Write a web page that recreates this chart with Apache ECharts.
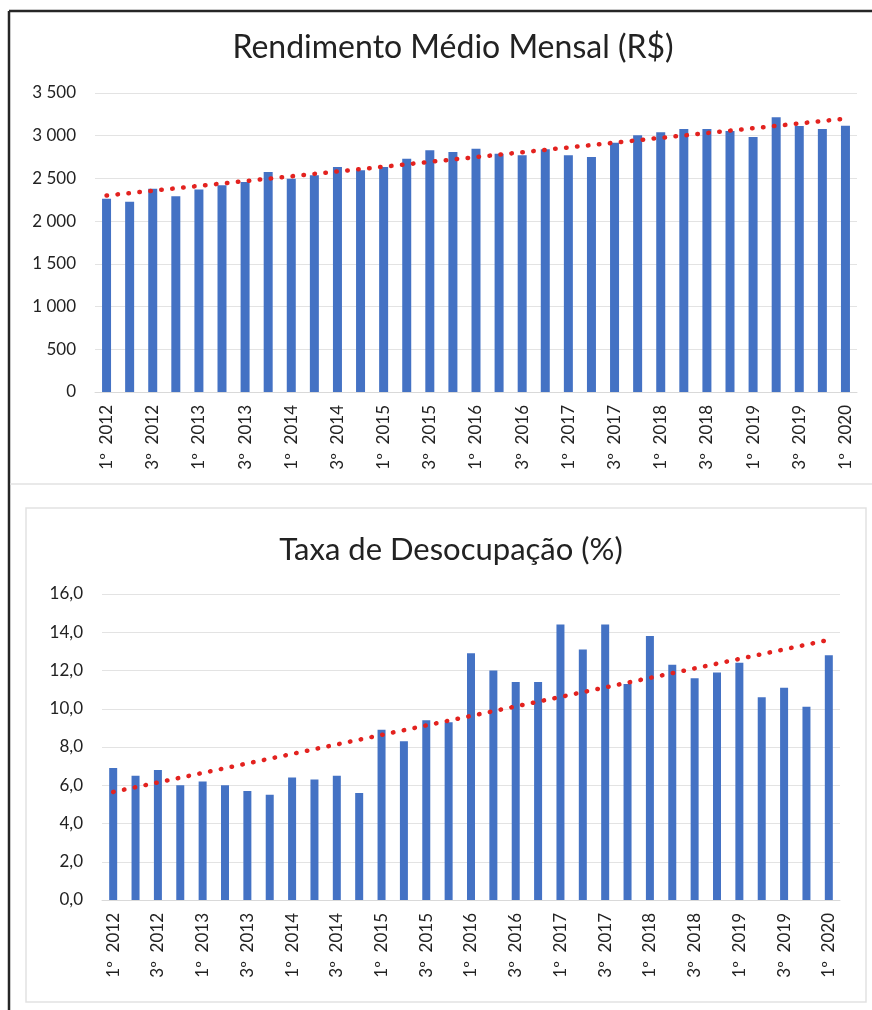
<!DOCTYPE html>
<html>
<head>
<meta charset="utf-8">
<script src="https://cdn.jsdelivr.net/npm/echarts@6/dist/echarts.min.js"></script>
<style>
  html, body { margin: 0; padding: 0; background: #ffffff; }
  #chart { width: 872px; height: 1010px; }
</style>
</head>
<body>
<div id="chart"></div>
<script>
// ---- Data ----
const quarters = [
  "1º 2012","2º 2012","3º 2012","4º 2012",
  "1º 2013","2º 2013","3º 2013","4º 2013",
  "1º 2014","2º 2014","3º 2014","4º 2014",
  "1º 2015","2º 2015","3º 2015","4º 2015",
  "1º 2016","2º 2016","3º 2016","4º 2016",
  "1º 2017","2º 2017","3º 2017","4º 2017",
  "1º 2018","2º 2018","3º 2018","4º 2018",
  "1º 2019","2º 2019","3º 2019","4º 2019",
  "1º 2020"
];
const rendimento = [2263,2228,2380,2290,2369,2419,2458,2575,2497,2536,2634,2595,2634,2731,2829,2809,2848,2790,2770,2841,2770,2751,2919,3004,3040,3079,3079,3055,2985,3215,3114,3079,3118];
const desocupacao = [6.9,6.5,6.8,6.0,6.2,6.0,5.7,5.5,6.4,6.3,6.5,5.6,8.9,8.3,9.4,9.3,12.9,12.0,11.4,11.4,14.4,13.1,14.4,11.3,13.8,12.3,11.6,11.9,12.4,10.6,11.1,10.1,12.8];
// trend line endpoints (first and last quarter)
const rendimentoTrend = [2300, 3200];
const desocupacaoTrend = [5.65, 13.6];
const titles = ["Rendimento Médio Mensal (R$)", "Taxa de Desocupação (%)"];

// ---- Chart ----
const FONT = "Lato";
const TEXT = "#222222";
const BAR = "#4472C4";
const TREND = "#E3221F";
const chart = echarts.init(document.getElementById('chart'), null, { renderer: 'canvas' });

function fmtThousands(v) {
  if (v >= 1000) return Math.floor(v / 1000) + ' ' + String(v % 1000).padStart(3, '0');
  return String(v);
}
function fmtDecimal(v) { return v.toFixed(1).replace('.', ','); }

function xAxis(gridIndex) {
  return {
    type: 'category', gridIndex: gridIndex, data: quarters,
    boundaryGap: true,
    axisTick: { show: false },
    axisLine: { lineStyle: { color: '#d9d9d9', width: 1 } },
    axisLabel: { interval: 1, rotate: 90, margin: 13, color: TEXT, fontFamily: FONT, fontSize: 17,
      formatter: function (s) { return s.replace(' ', '\u2002'); } }
  };
}
function yAxis(gridIndex, max, interval, fmt) {
  return {
    type: 'value', gridIndex: gridIndex, min: 0, max: max, interval: interval,
    axisLine: { show: false }, axisTick: { show: false },
    splitLine: { lineStyle: { color: '#e3e3e3', width: 1 } },
    axisLabel: { margin: 19, color: TEXT, fontFamily: FONT, fontSize: 17, formatter: fmt }
  };
}
function trendData(ends) {
  return [[quarters[0], ends[0]], [quarters[quarters.length - 1], ends[1]]];
}

const option = {
  backgroundColor: '#ffffff',
  animation: false,
  title: [
    { text: titles[0], left: 448, textAlign: 'center', top: 27, textStyle: { fontFamily: FONT, fontSize: 32, fontWeight: 'normal', color: TEXT } },
    { text: titles[1], left: 446, textAlign: 'center', top: 529, textStyle: { fontFamily: FONT, fontSize: 31, fontWeight: 'normal', color: TEXT } }
  ],
  graphic: [
    { type: 'line', shape: { x1: 9, y1: 11, x2: 872, y2: 11 }, style: { stroke: '#262626', lineWidth: 2.5 } },
    { type: 'line', shape: { x1: 9, y1: 11, x2: 9, y2: 1010 }, style: { stroke: '#262626', lineWidth: 2.5 } },
    { type: 'line', shape: { x1: 10, y1: 484, x2: 872, y2: 484 }, style: { stroke: '#e2e2e2', lineWidth: 1.5 } },
    { type: 'rect', shape: { x: 26, y: 508, width: 840, height: 494 }, style: { fill: 'none', stroke: '#e2e2e2', lineWidth: 1.5 } }
  ],
  grid: [
    { left: 95, width: 762, top: 93, height: 299, containLabel: false },
    { left: 102, width: 738, top: 594, height: 306, containLabel: false }
  ],
  xAxis: [xAxis(0), xAxis(1)],
  yAxis: [
    yAxis(0, 3500, 500, fmtThousands),
    yAxis(1, 16, 2, fmtDecimal)
  ],
  series: [
    { type: 'bar', xAxisIndex: 0, yAxisIndex: 0, data: rendimento, barWidth: 9, itemStyle: { color: BAR } },
    { type: 'line', xAxisIndex: 0, yAxisIndex: 0, data: trendData(rendimentoTrend), symbol: 'none',
      lineStyle: { color: TREND, width: 4.5, type: [0.5, 10.5], cap: 'round' }, z: 5 },
    { type: 'bar', xAxisIndex: 1, yAxisIndex: 1, data: desocupacao, barWidth: 8, itemStyle: { color: BAR } },
    { type: 'line', xAxisIndex: 1, yAxisIndex: 1, data: trendData(desocupacaoTrend), symbol: 'none',
      lineStyle: { color: TREND, width: 4.5, type: [0.5, 10.5], cap: 'round' }, z: 5 }
  ]
};
chart.setOption(option);
</script>
</body>
</html>
